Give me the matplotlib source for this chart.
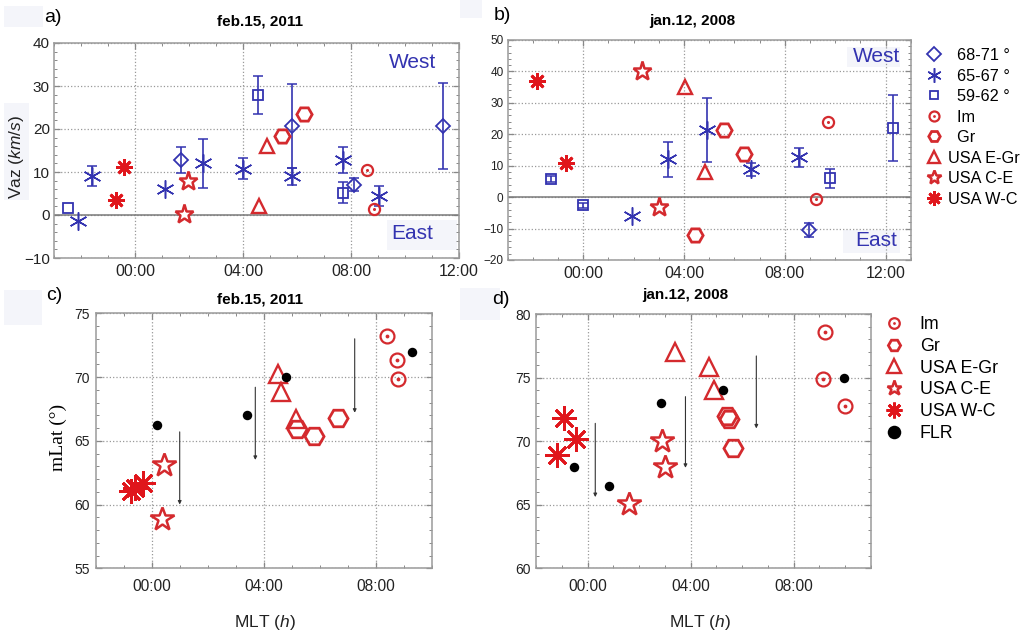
import numpy as np
import matplotlib
matplotlib.use("Agg")
import matplotlib.pyplot as plt
from matplotlib.lines import Line2D
from matplotlib.patches import Rectangle
from matplotlib.ticker import MultipleLocator, FuncFormatter

plt.rcParams['font.family'] = ['Liberation Sans', 'DejaVu Sans']
plt.rcParams['mathtext.fontset'] = 'custom'
plt.rcParams['mathtext.rm'] = 'Liberation Sans'
plt.rcParams['mathtext.it'] = 'Liberation Sans:italic'

# ---------------- data ----------------
# Panel a: feb.15, 2011  (MLT hours, Vaz km/s, error)
a_6871_t = [1.7, 5.8, 8.1, 11.4]
a_6871_v = [12.8, 20.7, 7.0, 20.7]
a_6871_e = [3.0, 9.7, 1.5, 9.9]
a_6567_t = [-2.1, -1.6, 1.1, 2.5, 4.0, 5.8, 7.7, 9.05]
a_6567_v = [-1.5, 9.0, 6.0, 12.0, 10.8, 9.0, 12.7, 4.5]
a_6567_e = [0.0, 2.3, 0.0, 5.7, 2.5, 2.0, 3.0, 2.3]
a_5962_t = [-2.5, 4.55, 7.7]
a_5962_v = [1.7, 28.0, 5.2]
a_5962_e = [0.0, 4.4, 2.4]
a_im_t = [8.6, 8.85]
a_im_v = [10.4, 1.5]
a_gr_t = [5.45, 6.25]
a_gr_v = [18.4, 23.5]
a_eg_t = [4.9, 4.6]
a_eg_v = [16.0, 2.0]
a_ce_t = [1.95, 1.8]
a_ce_v = [7.8, 0.2]
a_wc_t = [-0.7, -0.4]
a_wc_v = [3.6, 11.1]

# Panel b: jan.12, 2008
b_6871_t = [8.95]
b_6871_v = [-10.5]
b_6871_e = [2.3]
b_6567_t = [1.95, 3.35, 4.9, 6.65, 8.55]
b_6567_v = [-6.0, 12.0, 21.4, 8.8, 12.7]
b_6567_e = [0.0, 5.7, 10.3, 2.0, 3.0]
b_5962_t = [-1.3, 0.0, 9.8, 12.3]
b_5962_v = [5.7, -2.6, 6.0, 22.0]
b_5962_e = [1.0, 0.8, 3.0, 10.6]
b_im_t = [9.7, 9.25]
b_im_v = [24.0, -0.7]
b_gr_t = [4.45, 5.6, 6.4]
b_gr_v = [-12.0, 21.5, 13.8]
b_eg_t = [4.05, 4.85]
b_eg_v = [35.0, 8.0]
b_ce_t = [2.35, 3.0]
b_ce_v = [40.2, -3.2]
b_wc_t = [-1.85, -0.7]
b_wc_v = [37.0, 11.0]

# Panel c: feb.15, 2011  (MLT hours, mLat deg)
c_im_t = [8.4, 8.75, 8.8]
c_im_v = [73.2, 71.3, 69.85]
c_gr_t = [5.2, 5.8, 6.65]
c_gr_v = [65.9, 65.4, 66.8]
c_eg_t = [4.5, 4.6, 5.15]
c_eg_v = [70.2, 68.85, 66.7]
c_ce_t = [0.45, 0.35]
c_ce_v = [63.1, 58.9]
c_wc_t = [-0.75, -0.6, -0.3]
c_wc_v = [61.1, 61.3, 61.7]
c_flr_t = [0.18, 3.4, 4.8, 9.3]
c_flr_v = [66.25, 67.0, 70.0, 72.0]
c_arr_t = [1.0, 3.7, 7.25]
c_arr_from = [65.7, 69.2, 73.0]
c_arr_to = [60.0, 63.5, 67.2]

# Panel d: jan.12, 2008
d_im_t = [9.2, 9.15, 10.0]
d_im_v = [78.6, 74.9, 72.8]
d_gr_t = [5.4, 5.5, 5.65]
d_gr_v = [72.0, 71.75, 69.45]
d_eg_t = [3.4, 4.7, 4.9]
d_eg_v = [77.0, 75.85, 74.0]
d_ce_t = [1.6, 2.9, 3.0]
d_ce_v = [65.05, 70.0, 68.0]
d_wc_t = [-0.9, -0.45, -1.2]
d_wc_v = [71.8, 70.15, 68.9]
d_flr_t = [-0.53, 0.85, 2.85, 5.25, 9.95]
d_flr_v = [68.0, 66.5, 73.0, 74.0, 75.0]
d_arr_t = [0.3, 3.8, 6.55]
d_arr_from = [71.4, 73.5, 76.7]
d_arr_to = [65.6, 67.9, 71.0]

legend_top_labels = ["  68-71 \u00b0", "  65-67 \u00b0", "  59-62 \u00b0", "  Im", "  Gr",
                     "USA E-Gr", "USA C-E", "USA W-C"]
legend_bot_labels = ["Im", "Gr", "USA E-Gr", "USA C-E", "USA W-C", "FLR"]

# ---------------- style ----------------
BLUE = '#3333b0'
RED = '#d42a2e'
RED2 = '#e0161c'
W, H = 1025, 637

fig = plt.figure(figsize=(W / 100, H / 100), dpi=100)


def px_axes(l, t, r, b):
    return fig.add_axes([l / W, 1 - b / H, (r - l) / W, (b - t) / H])


def style(kind, s=1.0):
    base = {
        'd6871': dict(marker='D', ms=7.5, mfc='none', mec=BLUE, mew=1.3),
        'd6567': dict(marker=(6, 2, 0), ms=13, mec=BLUE, mew=1.1),
        'd5962': dict(marker='s', ms=7.5, mfc='none', mec=BLUE, mew=1.3),
        'im': dict(marker='o', ms=8, mfc='none', mec=RED, mew=1.6),
        'gr': dict(marker='H', ms=11, mfc='none', mec=RED, mew=2.0),
        'eg': dict(marker='^', ms=10, mfc='none', mec=RED, mew=1.7),
        'ce': dict(marker='*', ms=14, mfc='white', mec=RED, mew=1.8),
        'wc': dict(marker=(8, 2, 0), ms=12, mec=RED2, mew=2.0),
        'flr': dict(marker='o', ms=6.5, mfc='k', mec='k', mew=0),
    }[kind]
    d = dict(base)
    d['ms'] = d['ms'] * s
    return d


def draw(ax, t, v, kind, s=1.0, e=None):
    t = np.asarray(t, float)
    v = np.asarray(v, float)
    if e is not None:
        e = np.asarray(e, float)
        m = e > 0
        if m.any():
            ax.errorbar(t[m], v[m], yerr=e[m], fmt='none', ecolor=BLUE,
                        elinewidth=1.2, capsize=3.5, capthick=1.1, zorder=3)
    ax.plot(t, v, ls='none', zorder=4, **style(kind, s))
    if kind in ('im', 'd6567'):
        col = RED if kind == 'im' else BLUE
        ax.plot(t, v, ls='none', marker='o', ms=2.2 * s, mfc=col, mec=col, mew=0, zorder=5)


def hhmm(x, p):
    return f"{int(round(x)) % 24:02d}:00"


def setup(ax, xlim, ylim, ymaj, ymin, yfs, xfs, xpad, ypad):
    ax.set_xlim(*xlim)
    ax.set_ylim(*ylim)
    ax.xaxis.set_major_locator(MultipleLocator(4))
    ax.xaxis.set_minor_locator(MultipleLocator(1))
    ax.xaxis.set_major_formatter(FuncFormatter(hhmm))
    ax.yaxis.set_major_locator(MultipleLocator(ymaj))
    ax.yaxis.set_minor_locator(MultipleLocator(ymin))
    ax.grid(True, which='major', ls=':', color='#999999', lw=0.9)
    ax.set_axisbelow(True)
    for sp in ax.spines.values():
        sp.set_color('#9a9a9a')
        sp.set_linewidth(1.1)
    ax.tick_params(which='both', direction='in', top=True, right=True, color='#888888')
    ax.tick_params(which='major', length=4, width=0.9)
    ax.tick_params(which='minor', length=2.5, width=0.7)
    ax.tick_params(axis='x', labelsize=xfs, pad=xpad, labelcolor='#222222')
    ax.tick_params(axis='y', labelsize=yfs, pad=ypad, labelcolor='#222222')


def ftext(x, y, s, **kw):
    fig.text(x / W, 1 - y / H, s, ha='center', va='center', **kw)


def faint_box(x0, y0, x1, y1, ax=None):
    r = Rectangle((x0 / W, 1 - y1 / H), (x1 - x0) / W, (y1 - y0) / H,
                  transform=fig.transFigure, facecolor='#f4f5fa', edgecolor='none', zorder=0.5)
    if ax is None:
        fig.patches.append(r)
    else:
        ax.add_patch(r)


# faint scan boxes outside axes
faint_box(4, 6, 43, 27)
faint_box(4, 103, 29, 200)
faint_box(4, 290, 42, 325)
faint_box(460, 0, 482, 18)
faint_box(460, 288, 500, 320)

# ---------------- panel a ----------------
axa = px_axes(54, 43, 459, 258)
setup(axa, (-3, 12), (-10, 40), 10, 2, 11, 11.5, 4.5, 3)
axa.axhline(0, color='#7a7a7a', lw=1.1, zorder=2)
faint_box(387, 220, 457, 250, axa)
draw(axa, a_6871_t, a_6871_v, 'd6871', e=a_6871_e)
draw(axa, a_6567_t, a_6567_v, 'd6567', e=a_6567_e)
draw(axa, a_5962_t, a_5962_v, 'd5962', e=a_5962_e)
draw(axa, a_im_t, a_im_v, 'im')
draw(axa, a_gr_t, a_gr_v, 'gr')
draw(axa, a_eg_t, a_eg_v, 'eg')
draw(axa, a_ce_t, a_ce_v, 'ce')
draw(axa, a_wc_t, a_wc_v, 'wc')

# ---------------- panel b ----------------
axb = px_axes(507.7, 40, 910.7, 260)
setup(axb, (-3, 13), (-20, 50), 10, 2, 8.5, 11.5, 4.5, 3)
axb.axhline(0, color='#7a7a7a', lw=1.1, zorder=2)
faint_box(847, 47, 900, 67, axb)
faint_box(843, 230, 900, 253, axb)
draw(axb, b_6871_t, b_6871_v, 'd6871', e=b_6871_e)
draw(axb, b_6567_t, b_6567_v, 'd6567', e=b_6567_e)
draw(axb, b_5962_t, b_5962_v, 'd5962', e=b_5962_e)
draw(axb, b_im_t, b_im_v, 'im')
draw(axb, b_gr_t, b_gr_v, 'gr')
draw(axb, b_eg_t, b_eg_v, 'eg')
draw(axb, b_ce_t, b_ce_v, 'ce')
draw(axb, b_wc_t, b_wc_v, 'wc')

# ---------------- panel c ----------------
S = 1.25
axc = px_axes(95.7, 313.3, 431.7, 568.3)
setup(axc, (-2, 10), (55, 75), 5, 1, 10, 11.2, 7.6, 4)
draw(axc, c_im_t, c_im_v, 'im', S)
draw(axc, c_gr_t, c_gr_v, 'gr', S)
draw(axc, c_eg_t, c_eg_v, 'eg', S)
draw(axc, c_ce_t, c_ce_v, 'ce', S)
draw(axc, c_wc_t, c_wc_v, 'wc', 1.45)
draw(axc, c_flr_t, c_flr_v, 'flr', 1.05)
for t, f, to in zip(c_arr_t, c_arr_from, c_arr_to):
    axc.annotate('', xy=(t, to), xytext=(t, f),
                 arrowprops=dict(arrowstyle='-|>', color='#333333', lw=0.8,
                                 mutation_scale=5, shrinkA=0, shrinkB=0))

# ---------------- panel d ----------------
axd = px_axes(536, 314, 871, 568.3)
setup(axd, (-2, 11), (60, 80), 5, 1, 10, 11.2, 7.6, 4)
draw(axd, d_im_t, d_im_v, 'im', S)
draw(axd, d_gr_t, d_gr_v, 'gr', S)
draw(axd, d_eg_t, d_eg_v, 'eg', S)
draw(axd, d_ce_t, d_ce_v, 'ce', S)
draw(axd, d_wc_t, d_wc_v, 'wc', 1.45)
draw(axd, d_flr_t, d_flr_v, 'flr', 1.05)
for t, f, to in zip(d_arr_t, d_arr_from, d_arr_to):
    axd.annotate('', xy=(t, to), xytext=(t, f),
                 arrowprops=dict(arrowstyle='-|>', color='#333333', lw=0.8,
                                 mutation_scale=5, shrinkA=0, shrinkB=0))

# ---------------- texts ----------------
ftext(53, 17, 'a)', fontsize=14)
ftext(502, 15, 'b)', fontsize=14)
ftext(54, 296, 'c)', fontsize=14)
ftext(501, 299, 'd)', fontsize=14)
ftext(260, 22, 'feb.15, 2011', fontsize=11, fontweight='bold')
ftext(692, 21, 'jan.12, 2008', fontsize=11, fontweight='bold')
ftext(260, 299, 'feb.15, 2011', fontsize=11, fontweight='bold')
ftext(685, 295, 'jan.12, 2008', fontsize=11, fontweight='bold')
ftext(17, 157, r'Vaz ($\mathit{km/s}$)', fontsize=12.5, rotation=90, color='#222222')
ftext(58, 437, 'mLat (\u00b0)', fontsize=14, rotation=90, family='Liberation Serif')
ftext(265, 622, r'MLT ($\mathit{h}$)', fontsize=12.5, color='#222222')
ftext(700, 622, r'MLT ($\mathit{h}$)', fontsize=12.5, color='#222222')
ftext(413, 63, 'West', fontsize=15, color=BLUE)
ftext(412, 233, 'East', fontsize=15, color=BLUE)
ftext(877, 56, 'West', fontsize=15, color=BLUE)
ftext(876, 240, 'East', fontsize=15, color=BLUE)

# ---------------- legends ----------------
def lh(kind, s):
    h = Line2D([], [], ls='none', **style(kind, s))
    if kind == 'im':
        d = Line2D([], [], ls='none', marker='o', ms=2.0, mfc=RED, mec=RED, mew=0)
        return (h, d)
    return h

top_handles = [lh('d6871', 0.95), lh('d6567', 0.8), lh('d5962', 0.85), lh('im', 0.9),
               lh('gr', 0.75), lh('eg', 0.9), lh('ce', 0.75), lh('wc', 0.85)]
fig.legend(top_handles, legend_top_labels, loc='upper left',
           bbox_to_anchor=(926 / W, 1 - 48 / H), frameon=False, fontsize=11.7,
           handlelength=1.0, handletextpad=0.36, labelspacing=0.34,
           borderpad=0, borderaxespad=0)

bot_handles = [lh('im', 0.95), lh('gr', 0.8), lh('eg', 0.95), lh('ce', 0.8),
               lh('wc', 0.95), lh('flr', 1.5)]
fig.legend(bot_handles, legend_bot_labels, loc='upper left',
           bbox_to_anchor=(885 / W, 1 - 316 / H), frameon=False, fontsize=12.8,
           handlelength=1.0, handletextpad=0.96, labelspacing=0.27,
           borderpad=0, borderaxespad=0)

fig.savefig('out.png', dpi=100)
